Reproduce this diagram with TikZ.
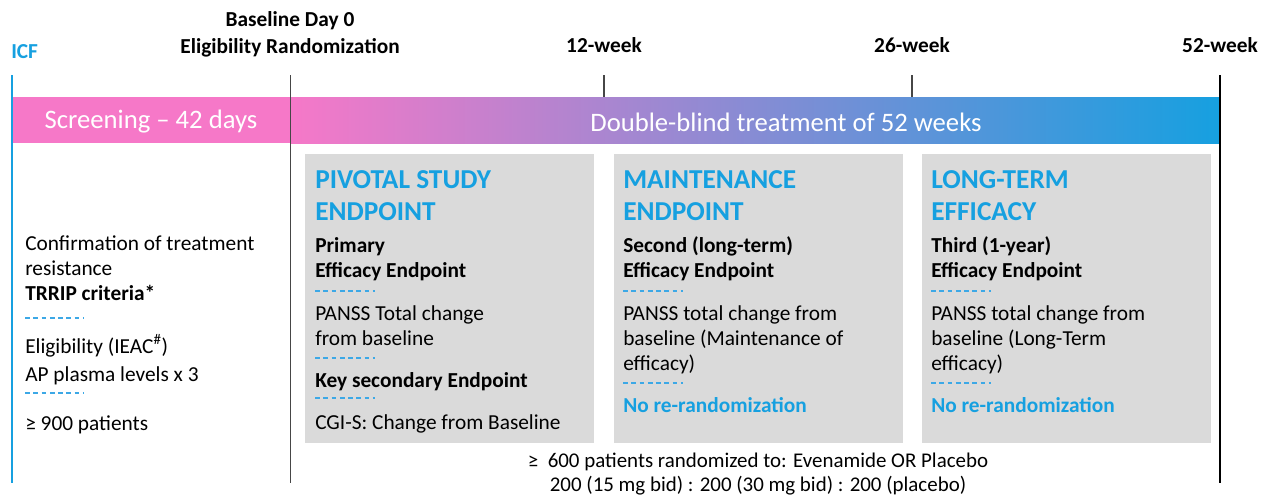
\documentclass[tikz,border=0pt]{standalone}
\usepackage{fontspec}
\setmainfont{Carlito}
\usepackage{tikz}

\definecolor{icfblue}{RGB}{22,160,224}
\definecolor{bandpink}{RGB}{246,120,200}
\definecolor{boxgray}{RGB}{218,218,218}
\definecolor{dashblue}{RGB}{60,168,230}
\definecolor{linegray}{RGB}{70,70,70}

\tikzset{
  milestone/.style={font=\fontsize{16}{20.25}\selectfont\bfseries, anchor=base, align=center, inner sep=0pt},
  bandtext/.style={text=white, font=\fontsize{20}{22}\selectfont, inner sep=0pt},
  panel/.style={fill=boxgray, draw=none},
  heading/.style={text=icfblue, font=\fontsize{20.5}{24}\selectfont\bfseries, anchor=base west, align=left, inner sep=0pt},
  body/.style={font=\fontsize{16}{18.75}\selectfont, anchor=base west, align=left, inner sep=0pt},
  bodybold/.style={body, font=\fontsize{16}{18.75}\selectfont\bfseries},
  sepline/.style={dashblue, dash pattern=on 3.6pt off 2.6pt, line width=0.8pt},
}

\begin{document}
\begin{tikzpicture}[x=0.75pt, y=-0.75pt]
        \useasboundingbox (0,0) rectangle (1271,497);

        % time line
        \coordinate (icftop) at (11.5,75);
        \coordinate (icfbot) at (11.5,483);
        \coordinate (basetop) at (290.5,75);
        \coordinate (basebot) at (290.5,483);
        \coordinate (wk12top) at (604,75);
        \coordinate (wk12bot) at (604,97);
        \coordinate (wk26top) at (912,75);
        \coordinate (wk26bot) at (912,97);
        \coordinate (wk52top) at (1220,75);
        \coordinate (wk52bot) at (1220,483);

        \fill[bandpink] (11.5,97) rectangle (290.5,143);
        \shade[left color=bandpink, right color=icfblue] (290.5,97) rectangle (1220,143);
        \node[bandtext] (screening) at (151,122) {Screening -- 42 days};
        \node[bandtext] (doubleblind) at (786,122) {Double-blind treatment of 52 weeks};

        \draw[icfblue, line width=1.5pt] (icftop) -- (icfbot);
        \draw[linegray, line width=0.9pt] (basetop) -- (basebot);
        \draw[linegray, line width=0.8pt] (wk12top) -- (wk12bot);
        \draw[linegray, line width=0.8pt] (wk26top) -- (wk26bot);
        \draw[black, line width=0.9pt] (wk52top) -- (wk52bot);

        \node[milestone, text=icfblue, anchor=base west] (icf) at (11,58) {ICF};
        \node[milestone] (baseline) at (290,53) {Baseline Day 0\\Eligibility Randomization};
        \node[milestone] (week12) at (604,52) {12-week};
        \node[milestone] (week26) at (912,52) {26-week};
        \node[milestone] (week52) at (1220,52) {52-week};

        % screening column
        \node[body] (resistance) at (25,300) {Confirmation of treatment\\resistance\\\textbf{TRRIP criteria*}};
        \draw[sepline] (25,318) -- (83,318);
        \node[body, font=\fontsize{16}{21}\selectfont] (eligibility) at (25,381) {Eligibility (IEAC\textsuperscript{\#})\\AP plasma levels x 3};
        \draw[sepline] (25,393) -- (83,393);
        \node[body] (screened) at (25,430) {≥ 900 patients};

        % endpoint panels
        \fill[panel] (305,154) rectangle (594,443);
        \fill[panel] (614,154) rectangle (903,443);
        \fill[panel] (922,154) rectangle (1211,443);

        \node[heading] (pivotal) at (315,220) {PIVOTAL STUDY\\ENDPOINT};
        \node[bodybold] (primary) at (315,277) {Primary\\Efficacy Endpoint};
        \draw[sepline] (315,291) -- (375,291);
        \node[body] (panss1) at (315,345) {PANSS Total change\\from baseline};
        \draw[sepline] (315,358) -- (375,358);
        \node[bodybold] (keysecondary) at (315,387) {Key secondary Endpoint};
        \draw[sepline] (315,398) -- (375,398);
        \node[body] (cgis) at (315,429) {CGI-S: Change from Baseline};

        \node[heading] (maintenance) at (623,220) {MAINTENANCE\\ENDPOINT};
        \node[bodybold] (second) at (623,277) {Second (long-term)\\Efficacy Endpoint};
        \draw[sepline] (623,291) -- (683,291);
        \node[body] (panss2) at (623,370) {PANSS total change from\\baseline (Maintenance of\\efficacy)};
        \draw[sepline] (623,383) -- (683,383);
        \node[bodybold, text=icfblue] (norerand2) at (623,412) {No re-randomization};

        \node[heading] (longterm) at (931,220) {LONG-TERM\\EFFICACY};
        \node[bodybold] (third) at (931,277) {Third (1-year)\\Efficacy Endpoint};
        \draw[sepline] (931,291) -- (991,291);
        \node[body] (panss3) at (931,370) {PANSS total change from\\baseline (Long-Term\\efficacy)};
        \draw[sepline] (931,383) -- (991,383);
        \node[bodybold, text=icfblue] (norerand3) at (931,412) {No re-randomization};

        % randomization
        \node[body, anchor=base, align=center, font=\fontsize{15.7}{18}\selectfont] (randomized) at (758,491) {≥\ \ 600 patients randomized to: Evenamide OR Placebo\\200 (15 mg bid) : 200 (30 mg bid) : 200 (placebo)};
    \end{tikzpicture}
\end{document}
